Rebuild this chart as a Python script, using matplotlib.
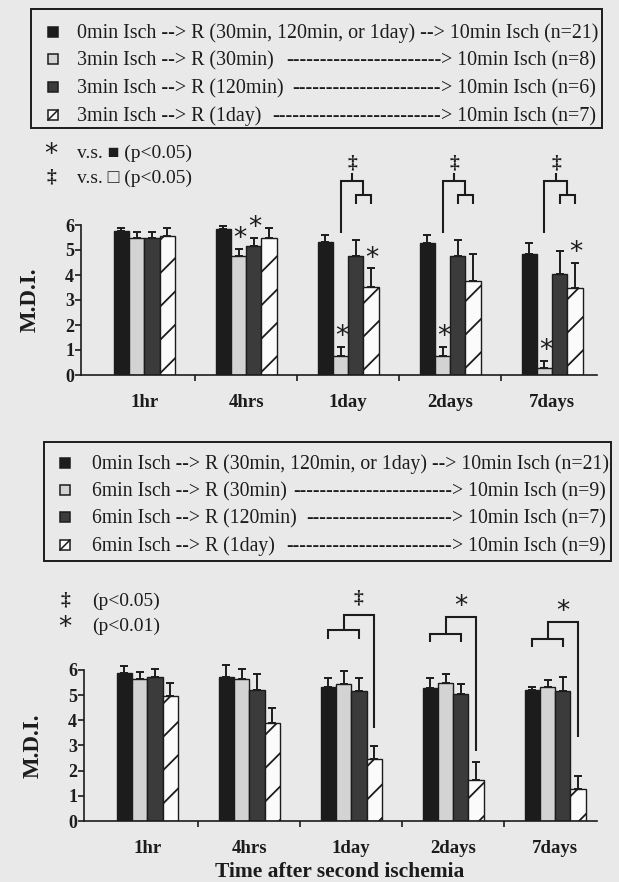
import matplotlib
matplotlib.use('Agg')
import matplotlib.pyplot as plt
import numpy as np
from matplotlib.patches import Rectangle
from matplotlib.lines import Line2D

# ---------------- data ----------------
categories = ['1hr', '4hrs', '1day', '2days', '7days']

# Panel 1 (3 min preconditioning)
p1_ctrl = [5.77, 5.84, 5.33, 5.28, 4.84]
p1_ctrl_err = [0.13, 0.13, 0.27, 0.32, 0.44]
p1_r30 = [5.47, 4.76, 0.76, 0.76, 0.28]
p1_r30_err = [0.27, 0.28, 0.37, 0.37, 0.28]
p1_r120 = [5.47, 5.17, 4.76, 4.76, 4.04]
p1_r120_err = [0.27, 0.33, 0.64, 0.64, 0.92]
p1_r1d = [5.56, 5.50, 3.53, 3.77, 3.48]
p1_r1d_err = [0.34, 0.40, 0.75, 1.07, 1.00]

# Panel 2 (6 min preconditioning)
p2_ctrl = [5.87, 5.70, 5.32, 5.28, 5.20]
p2_ctrl_err = [0.28, 0.50, 0.35, 0.39, 0.10]
p2_r30 = [5.63, 5.63, 5.43, 5.48, 5.30]
p2_r30_err = [0.27, 0.40, 0.52, 0.35, 0.30]
p2_r120 = [5.70, 5.20, 5.16, 5.04, 5.17]
p2_r120_err = [0.32, 0.63, 0.51, 0.39, 0.53]
p2_r1d = [4.96, 3.89, 2.46, 1.63, 1.27]
p2_r1d_err = [0.52, 0.59, 0.52, 0.71, 0.51]

# significance stars in panel 1: (group index, bar index)
p1_stars = [(1, 1), (1, 2), (2, 1), (2, 3), (3, 1), (4, 1), (4, 3)]
p1_bracket_groups = [2, 3, 4]
p2_bracket_groups = [2, 3, 4]
p2_bracket_symbols = ['\u2021', '*', '*']

legend1_left = ['0min Isch --> R (30min, 120min, or 1day) -->',
                '3min Isch --> R (30min)',
                '3min Isch --> R (120min)',
                '3min Isch --> R (1day)']
legend1_right = ['10min Isch (n=21)', '10min Isch (n=8)',
                 '10min Isch (n=6)', '10min Isch (n=7)']
legend2_left = ['0min Isch --> R (30min, 120min, or 1day) -->',
                '6min Isch --> R (30min)',
                '6min Isch --> R (120min)',
                '6min Isch --> R (1day)']
legend2_right = ['10min Isch (n=21)', '10min Isch (n=9)',
                 '10min Isch (n=7)', '10min Isch (n=9)']

# ---------------- style ----------------
W, H = 619, 882
BG = '#e9e9e9'
INK = '#1c1c1c'
fills = ['#1c1c1c', '#d3d3d3', '#3b3b3b', '#fbfbfb']
hatches = [None, None, None, '/']
SERIF = ['Liberation Serif', 'DejaVu Serif', 'DejaVu Sans']
plt.rcParams['hatch.linewidth'] = 1.3
plt.rcParams['hatch.color'] = INK

fig = plt.figure(figsize=(W / 100, H / 100), dpi=100, facecolor=BG)


def fx(x):
    return x / W


def fy(y):
    return 1 - y / H


offsets = [-0.225, -0.075, 0.075, 0.225]
bw = 0.15


def make_panel(rect, xlim, series, errs, label_x):
    ax = fig.add_axes(rect)
    ax.set_facecolor('none')
    x = np.arange(len(categories))
    for i in range(4):
        ax.bar(x + offsets[i], series[i], width=bw, color=fills[i],
               edgecolor=INK, linewidth=1.0, hatch=hatches[i], zorder=2)
        ax.errorbar(x + offsets[i], series[i],
                    yerr=[np.zeros(len(x)), errs[i]], fmt='none',
                    ecolor=INK, elinewidth=1.4, capsize=3, capthick=1.4,
                    zorder=3, clip_on=False)
    ax.set_xlim(*xlim)
    ax.set_ylim(0, 9)
    for s in ['top', 'right']:
        ax.spines[s].set_visible(False)
    ax.spines['left'].set_bounds(0, 6)
    ax.spines['left'].set_linewidth(1.2)
    ax.spines['bottom'].set_linewidth(1.2)
    ax.spines['left'].set_color(INK)
    ax.spines['bottom'].set_color(INK)
    ax.set_yticks(range(7))
    ax.set_yticklabels([str(v) for v in range(7)], fontfamily=SERIF,
                       fontweight='bold', fontsize=13)
    ax.tick_params(axis='y', direction='out', length=4, width=1.2, pad=1,
                   color=INK, labelcolor=INK)
    ax.set_xticks(x)
    ax.set_xticklabels(categories, fontfamily=SERIF, fontweight='bold',
                       fontsize=13.5)
    ax.tick_params(axis='x', which='major', length=0, pad=14, labelcolor=INK)
    ax.set_xticks(x[:-1] + 0.5, minor=True)
    ax.tick_params(axis='x', which='minor', direction='out', length=4,
                   width=1.2, color=INK)
    ax.set_ylabel('M.D.I.', fontfamily=SERIF, fontweight='bold',
                  fontsize=16.5, color=INK)
    ax.yaxis.set_label_coords(label_x, 3 / 9)
    return ax


ax1 = make_panel([81 / W, (H - 375) / H, 516 / W, 225 / H], (-0.62, 4.44),
                 [p1_ctrl, p1_r30, p1_r120, p1_r1d],
                 [p1_ctrl_err, p1_r30_err, p1_r120_err, p1_r1d_err],
                 -(81 - 41) / 516)
ax2 = make_panel([84 / W, (H - 821) / H, 513 / W, 226.8 / H], (-0.62, 4.41),
                 [p2_ctrl, p2_r30, p2_r120, p2_r1d],
                 [p2_ctrl_err, p2_r30_err, p2_r120_err, p2_r1d_err],
                 -(84 - 44) / 513)

# stars panel 1
p1_vals = [p1_ctrl, p1_r30, p1_r120, p1_r1d]
p1_errs = [p1_ctrl_err, p1_r30_err, p1_r120_err, p1_r1d_err]
for g, b in p1_stars:
    top = p1_vals[b][g] + p1_errs[b][g]
    ax1.text(g + offsets[b] + 0.01, top + 0.1, '*', ha='center', va='baseline',
             fontsize=19, color=INK, fontfamily='DejaVu Sans', clip_on=False)


def line(ax, xs, ys):
    ax.plot(xs, ys, color=INK, lw=1.5, clip_on=False, zorder=4,
            solid_capstyle='butt', solid_joinstyle='miter')


# brackets panel 1
for g in p1_bracket_groups:
    c = g
    line(ax1, [c + 0.0375, c + 0.0375], [7.78, 8.1])
    line(ax1, [c - 0.075, c - 0.075, c + 0.15, c + 0.15], [5.7, 7.78, 7.78, 7.2])
    line(ax1, [c + 0.075, c + 0.075, c + 0.225, c + 0.225], [6.84, 7.2, 7.2, 6.84])
    ax1.text(c + 0.0375, 8.5, '\u2021', ha='center', va='center', fontsize=14,
             fontweight='bold', fontfamily=SERIF, color=INK, clip_on=False)

# brackets panel 2
p2_outer = [8.17, 8.1, 7.9]
p2_inner = [7.58, 7.42, 7.22]
p2_leg = [7.22, 7.1, 6.9]
p2_right_bottom = [3.69, 2.78, 3.33]
p2_sym_y = [8.85, 8.77, 8.57]
for k, g in enumerate(p2_bracket_groups):
    c = g
    line(ax2, [c - 0.225, c - 0.225, c + 0.075, c + 0.075],
         [p2_leg[k], p2_inner[k], p2_inner[k], p2_leg[k]])
    line(ax2, [c - 0.075, c - 0.075, c + 0.225, c + 0.225],
         [p2_inner[k], p2_outer[k], p2_outer[k], p2_right_bottom[k]])
    sym = p2_bracket_symbols[k]
    if sym == '*':
        ax2.text(c + 0.075, p2_sym_y[k] - 0.55, '*', ha='center', va='baseline',
                 fontsize=19, fontfamily='DejaVu Sans', color=INK, clip_on=False)
    else:
        ax2.text(c + 0.075, p2_sym_y[k], sym, ha='center', va='center',
                 fontsize=14, fontweight='bold', fontfamily=SERIF, color=INK,
                 clip_on=False)

fig.text(fx(340), fy(872), 'Time after second ischemia', ha='center',
         va='center', fontsize=15.5, fontweight='bold', fontfamily=SERIF,
         color=INK)

# ---------------- legends ----------------
renderer = fig.canvas.get_renderer()


def draw_legend(box, sq_x, text_x, right_x, row_ys, lefts, rights):
    fig.add_artist(Rectangle((fx(box[0]), fy(box[3])), (box[2] - box[0]) / W,
                             (box[3] - box[1]) / H, transform=fig.transFigure,
                             fill=False, lw=1.4, ec=INK))
    # font size to fit the first row into the box
    fs = 13.0
    probe = fig.text(0, 0, lefts[0] + ' ' + rights[0], fontsize=fs,
                     fontfamily=SERIF)
    wpx = probe.get_window_extent(renderer).width
    probe.remove()
    fs = fs * (right_x - text_x) / wpx
    dash_probe = fig.text(0, 0, '-' * 40, fontsize=fs, fontfamily=SERIF)
    dw = dash_probe.get_window_extent(renderer).width / 40
    dash_probe.remove()
    for i, y in enumerate(row_ys):
        s = 10
        fig.add_artist(Rectangle((fx(sq_x - s / 2), fy(y + s / 2)), s / W, s / H,
                                 transform=fig.transFigure, facecolor=fills[i],
                                 edgecolor=INK, lw=1.1))
        if hatches[i]:
            fig.add_artist(Line2D([fx(sq_x - s / 2), fx(sq_x + s / 2)],
                                  [fy(y + s / 2), fy(y - s / 2)],
                                  transform=fig.transFigure, color=INK, lw=1.1))
        ty = y + 1.5
        if i == 0:
            fig.text(fx(text_x), fy(ty), lefts[i] + ' ' + rights[i], fontsize=fs,
                     fontfamily=SERIF, va='center', ha='left', color=INK)
            continue
        tl = fig.text(fx(text_x), fy(ty), lefts[i], fontsize=fs,
                      fontfamily=SERIF, va='center', ha='left', color=INK)
        tr = fig.text(fx(right_x), fy(ty), '> ' + rights[i], fontsize=fs,
                      fontfamily=SERIF, va='center', ha='right', color=INK)
        xl = tl.get_window_extent(renderer).x1
        xr = tr.get_window_extent(renderer).x0
        n = int((xr - xl - dw * 0.8) / dw)
        fig.text(xr / W, fy(ty), '-' * max(n, 0), fontsize=fs, fontfamily=SERIF,
                 va='center', ha='right', color=INK)


draw_legend((31, 9, 602, 128), 53, 77, 596, [32, 59, 87, 115],
            legend1_left, legend1_right)
draw_legend((44, 442, 611, 561), 65, 92, 606, [463, 490, 517, 545],
            legend2_left, legend2_right)

# significance notes
fig.text(fx(51), fy(155), '*', fontsize=19, fontfamily='DejaVu Sans',
         ha='center', va='center', color=INK)
fig.text(fx(77), fy(153), 'v.s. \u25a0 (p<0.05)', fontsize=14,
         fontfamily=SERIF, ha='left', va='center', color=INK)
fig.text(fx(51), fy(177), '\u2021', fontsize=14, fontweight='bold',
         fontfamily=SERIF, ha='center', va='center', color=INK)
fig.text(fx(77), fy(178), 'v.s. \u25a1 (p<0.05)', fontsize=14,
         fontfamily=SERIF, ha='left', va='center', color=INK)

fig.text(fx(65), fy(600), '\u2021', fontsize=14, fontweight='bold',
         fontfamily=SERIF, ha='center', va='center', color=INK)
fig.text(fx(92), fy(601), '(p<0.05)', fontsize=14, fontfamily=SERIF,
         ha='left', va='center', color=INK)
fig.text(fx(65), fy(628), '*', fontsize=19, fontfamily='DejaVu Sans',
         ha='center', va='center', color=INK)
fig.text(fx(92), fy(626), '(p<0.01)', fontsize=14, fontfamily=SERIF,
         ha='left', va='center', color=INK)

fig.savefig('out.png', dpi=100, facecolor=BG)
